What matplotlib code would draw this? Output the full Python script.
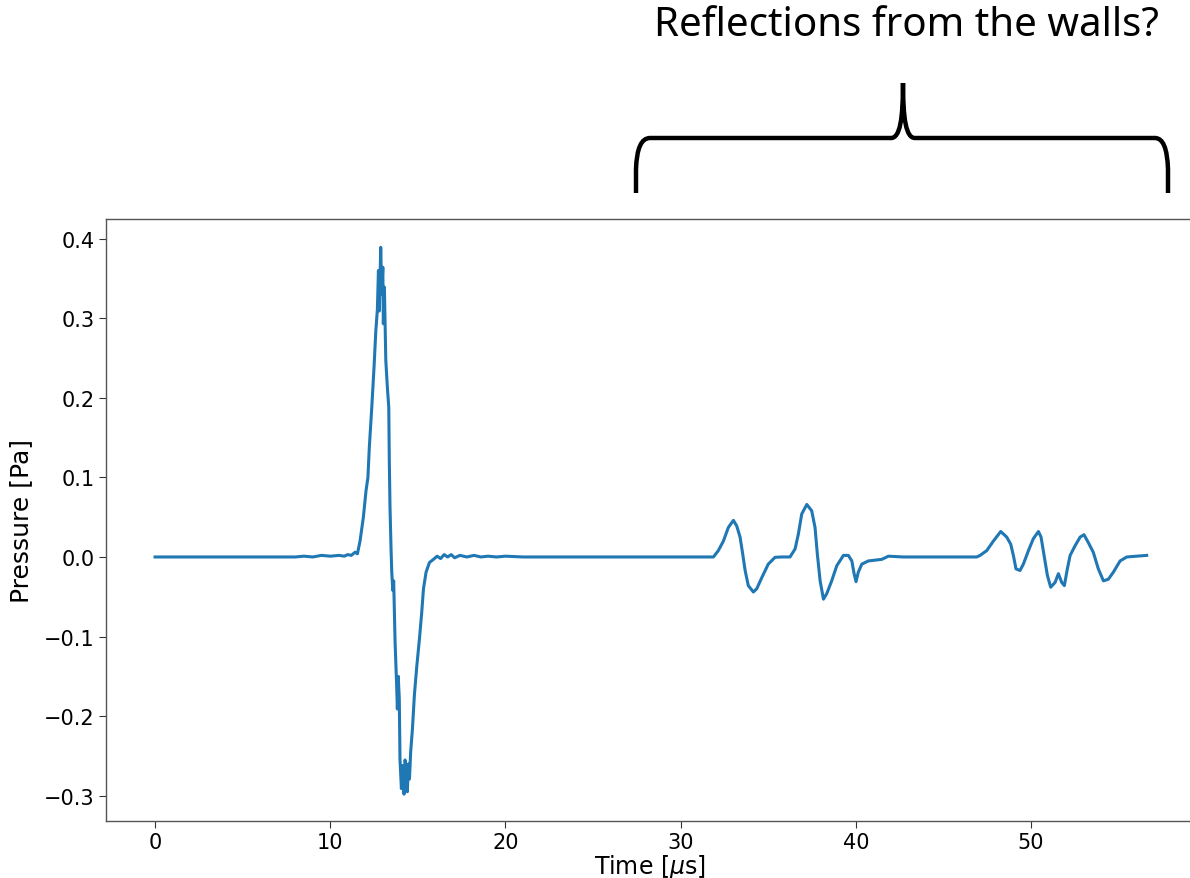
import matplotlib
matplotlib.use("Agg")
import matplotlib.pyplot as plt
from matplotlib.path import Path
from matplotlib.patches import PathPatch

plt.rcParams["font.family"] = ["DejaVu Sans"]
plt.rcParams["mathtext.fontset"] = "dejavusans"

# ---- data (time in microseconds, pressure in Pa) ----
time_us = [
    0.0, 4.0, 8.0, 8.5, 9.0, 9.5, 10.0, 10.5, 10.8, 11.0, 11.2, 11.42, 11.55,
    11.70, 11.89, 12.04, 12.15, 12.23, 12.37, 12.50, 12.60, 12.69, 12.75, 12.80,
    12.88, 12.94, 13.00, 13.03, 13.09, 13.17, 13.26, 13.34, 13.37, 13.41, 13.47,
    13.51, 13.57, 13.62, 13.70, 13.79, 13.83, 13.88, 13.94, 13.98, 14.06, 14.14,
    14.21, 14.27, 14.33, 14.40, 14.46, 14.52, 14.59, 14.69, 14.80, 14.94, 15.09,
    15.22, 15.32, 15.47, 15.66, 15.89, 16.1, 16.3, 16.5, 16.7, 16.9, 17.1, 17.4,
    17.8, 18.2, 18.6, 19.0, 19.5, 20.0, 21.0, 26.0, 31.87,
    32.15, 32.44, 32.72, 33.01, 33.20, 33.39, 33.54, 33.68, 33.86, 34.15, 34.34,
    34.63, 35.00, 35.39, 35.77, 36.24, 36.53, 36.72, 36.91, 37.20, 37.48, 37.67,
    37.80, 37.96, 38.15, 38.34, 38.62, 38.91, 39.29, 39.57, 39.77, 39.90, 40.01,
    40.14, 40.34, 40.71, 41.48, 41.86, 42.7, 46.9,
    47.09, 47.47, 47.85, 48.27, 48.61, 48.84, 48.99, 49.14, 49.37, 49.56, 49.85,
    50.13, 50.42, 50.57, 50.74, 50.93, 51.12, 51.37, 51.56, 51.75, 51.90, 52.07,
    52.23, 52.51, 52.80, 53.02, 53.27, 53.55, 53.84, 54.13, 54.41, 54.70, 55.08,
    55.46, 56.03, 56.60,
]
pressure_pa = [
    0.0, 0.0, 0.0, 0.001, 0.0, 0.002, 0.001, 0.002, 0.001, 0.003, 0.002, 0.006, 0.004,
    0.020, 0.050, 0.083, 0.100, 0.138, 0.188, 0.239, 0.284, 0.311, 0.360, 0.309,
    0.389, 0.330, 0.364, 0.293, 0.339, 0.247, 0.213, 0.188, 0.121, 0.063, 0.010,
    -0.019, -0.042, -0.030, -0.107, -0.162, -0.191, -0.150, -0.178, -0.254, -0.291, -0.262,
    -0.298, -0.255, -0.266, -0.295, -0.260, -0.279, -0.245, -0.216, -0.174, -0.137, -0.103,
    -0.070, -0.040, -0.019, -0.007, -0.003, 0.001, -0.002, 0.003, 0.0, 0.003, -0.001, 0.002,
    0.0, 0.002, 0.0, 0.001, 0.0, 0.001, 0.0, 0.0, 0.0,
    0.008, 0.020, 0.037, 0.046, 0.039, 0.025, 0.004, -0.017, -0.036, -0.044, -0.040,
    -0.026, -0.009, -0.0004, 0.0, 0.0, 0.010, 0.029, 0.054, 0.066, 0.058, 0.037,
    0.004, -0.030, -0.053, -0.046, -0.030, -0.011, 0.002, 0.002, -0.005, -0.021, -0.031,
    -0.019, -0.009, -0.005, -0.003, 0.001, 0.0, 0.0,
    0.002, 0.008, 0.020, 0.032, 0.025, 0.016, 0.002, -0.015, -0.017, -0.009, 0.008,
    0.023, 0.032, 0.025, 0.002, -0.023, -0.038, -0.032, -0.021, -0.032, -0.036, -0.015,
    0.002, 0.014, 0.025, 0.028, 0.018, 0.006, -0.015, -0.030, -0.028, -0.019, -0.005,
    0.000, 0.001, 0.002,
]
annotation_text = "Reflections from the walls?"
x_label = r"Time [$\mu$s]"
y_label = "Pressure [Pa]"

W, H = 1190, 879
fig = plt.figure(figsize=(W / 100, H / 100), dpi=100)

# axes extends slightly past the right edge (right spine is cropped in the reference)
left_px, right_px, top_px, bottom_px = 106, 1194, 220, 822
ax = fig.add_axes([left_px / W, 1 - bottom_px / H,
                   (right_px - left_px) / W, (bottom_px - top_px) / H])
ax.plot(time_us, pressure_pa, color="#1f77b4", lw=2.2)

ax.set_xlim(-2.8, 59.3)
ax.set_ylim(-0.3317, 0.4246)
ax.set_xticks([0, 10, 20, 30, 40, 50])
ax.set_yticks([-0.3, -0.2, -0.1, 0.0, 0.1, 0.2, 0.3, 0.4])
ax.set_yticklabels(["\u22120.3", "\u22120.2", "\u22120.1", "0.0", "0.1", "0.2", "0.3", "0.4"])
ax.tick_params(labelsize=15, length=5, width=0.8, colors="#333333", labelcolor="black",
               pad=3)
for s in ax.spines.values():
    s.set_color("#555555")
    s.set_linewidth(1.0)
ax.set_xlabel(x_label, fontsize=17, labelpad=0)
ax.set_ylabel(y_label, fontsize=18, labelpad=8)

# curly brace above the reflections (figure pixel coordinates)
def P(x, y):
    return (x / W, 1 - y / H)

verts = [P(636, 194), P(636, 170), P(637, 139), P(650, 139), P(891, 139),
         P(900, 139), P(903, 120), P(903, 84),
         P(903, 120), P(906, 139), P(915, 139),
         P(1155, 139), P(1167, 139), P(1168, 170), P(1168, 194)]
codes = [Path.MOVETO, Path.LINETO, Path.CURVE3, Path.CURVE3, Path.LINETO,
         Path.CURVE4, Path.CURVE4, Path.CURVE4,
         Path.CURVE4, Path.CURVE4, Path.CURVE4,
         Path.LINETO, Path.CURVE3, Path.CURVE3, Path.LINETO]
brace = PathPatch(Path(verts, codes), transform=fig.transFigure,
                  facecolor="none", edgecolor="black", lw=3.2, capstyle="butt")
fig.patches.append(brace)

fig.text(906 / W, 1 - 26 / H, annotation_text, ha="center", va="center",
         fontsize=29, family="Noto Sans")

fig.savefig("out.png", dpi=100)
